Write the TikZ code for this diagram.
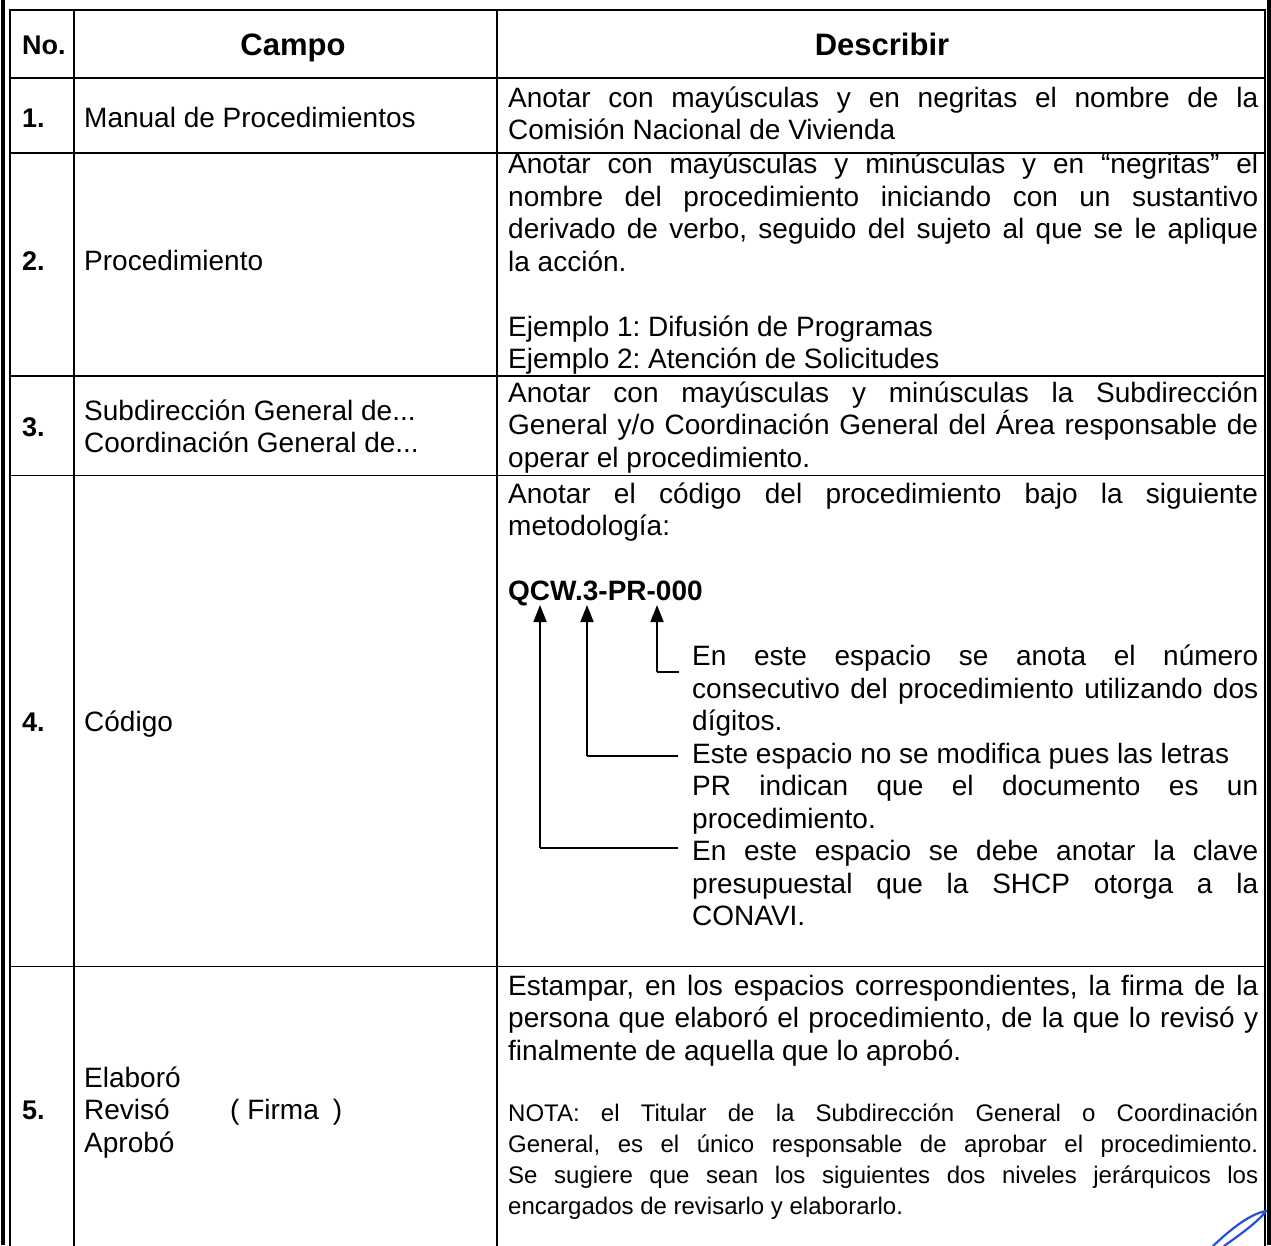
\documentclass[tikz,border=0pt]{standalone}
\usepackage{fontspec}
\setmainfont{Liberation Sans}
\usetikzlibrary{arrows.meta}
\frenchspacing
\newcommand\jl[1]{\hbox to\hsize{#1}}
\newcommand\lf[1]{\hbox to\hsize{#1\hfil}}
\newcommand\emptyline{\hbox{}}
\newcommand\txtblock[2]{\vtop{\hsize=#1\lineskiplimit=-100pt\lineskip=0pt #2}}
\tikzset{
  gridline/.style={line width=1.7pt, line cap=rect},
  body/.style={inner sep=0pt, anchor=base west, font=\fontsize{28}{32.5}\selectfont\frenchspacing},
  nota/.style={inner sep=0pt, anchor=base west, font=\fontsize{24}{31}\selectfont\frenchspacing},
  num/.style={inner sep=0pt, anchor=base west, font=\fontsize{27}{30}\selectfont\bfseries},
  head/.style={inner sep=0pt, anchor=base, font=\fontsize{31}{34}\selectfont\bfseries},
  codearrow/.style={line width=1.8pt, -{Triangle[width=13pt,length=17pt]}},
  bracket/.style={line width=1.8pt},
  pen/.style={line width=2.2pt, draw=penblue, line cap=round, line join=round},
}
\definecolor{penblue}{RGB}{40,80,210}
\begin{document}
\begin{tikzpicture}[x=1pt,y=-1pt]
\useasboundingbox (0,0) rectangle (1271,1245);
\fill[white] (0,0) rectangle (1271,1245);
% outer thick bars
\fill[black] (0.5,0) rectangle (5,1245);
\fill[black] (1267,0) rectangle (1271,1245);
% table grid
\draw[gridline] (10,10) -- (1265,10);
\draw[gridline] (10,10) -- (10,1245);
\draw[gridline] (74,10) -- (74,1245);
\draw[gridline] (497,10) -- (497,1245);
\draw[gridline] (1265,10) -- (1265,1245);
\foreach \yy in {78,153,376,475.5,966.5} \draw[gridline] (10,\yy) -- (1265,\yy);

% header
\node[num] (hno) at (22,54) {No.};
\node[head] (hcampo) at (293,55) {Campo};
\node[head] (hdesc) at (882,55) {Describir};

% row 1
\node[num] (n1) at (22,127) {1.};
\node[body] (c1) at (84,127) {Manual de Procedimientos};
\node[body] (d1) at (508,107) {\txtblock{750pt}{%
\jl{Anotar con mayúsculas y en negritas el nombre de la}%
\lf{Comisión Nacional de Vivienda}}};

% row 2
\node[num] (n2) at (22,270) {2.};
\node[body] (c2) at (84,270) {Procedimiento};
\node[body] (d2) at (508,173.5) {\txtblock{750pt}{%
\jl{Anotar con mayúsculas y minúsculas y en “negritas” el}%
\jl{nombre del procedimiento iniciando con un sustantivo}%
\jl{derivado de verbo, seguido del sujeto al que se le aplique}%
\lf{la acción.}%
\emptyline
\lf{Ejemplo 1: Difusión de Programas}%
\lf{Ejemplo 2: Atención de Solicitudes}}};

% row 3
\node[num] (n3) at (22,436) {3.};
\node[body] (c3) at (84,420) {\txtblock{400pt}{%
\lf{Subdirección General de...}%
\lf{Coordinación General de...}}};
\node[body] (d3) at (508,402) {\txtblock{750pt}{%
\jl{Anotar con mayúsculas y minúsculas la Subdirección}%
\jl{General y/o Coordinación General del Área responsable de}%
\lf{operar el procedimiento.}}};

% row 4
\node[num] (n4) at (22,731) {4.};
\node[body] (c4) at (84,731) {Código};
\node[body] (d4) at (508,503) {\txtblock{750pt}{%
\jl{Anotar el código del procedimiento bajo la siguiente}%
\lf{metodología:}}};
\node[body, font=\fontsize{28}{32.5}\selectfont\bfseries] (code) at (508,600.5) {QCW.3-PR-000};
\node[body] (e1) at (692,665.5) {\txtblock{566pt}{%
\jl{En este espacio se anota el número}%
\jl{consecutivo del procedimiento utilizando dos}%
\lf{dígitos.}%
\lf{Este espacio no se modifica pues las letras}%
\jl{PR indican que el documento es un}%
\lf{procedimiento.}%
\jl{En este espacio se debe anotar la clave}%
\jl{presupuestal que la SHCP otorga a la}%
\lf{CONAVI.}}};
% code arrows
\coordinate (k1) at (540,848);
\coordinate (k2) at (587,756);
\coordinate (k3) at (657,672);
\coordinate (tip) at (0,605);
\coordinate (e3) at (679,672);
\coordinate (e2) at (678,756);
\coordinate (ee1) at (678,848);
\draw[bracket] (e3) -- (k3);
\draw[codearrow] (k3) -- (k3 |- tip);
\draw[bracket] (e2) -- (k2);
\draw[codearrow] (k2) -- (k2 |- tip);
\draw[bracket] (ee1) -- (k1);
\draw[codearrow] (k1) -- (k1 |- tip);

% row 5
\node[num] (n5) at (22,1119.5) {5.};
\node[body] (c5) at (84,1087) {\txtblock{150pt}{%
\lf{Elaboró}%
\lf{Revisó}%
\lf{Aprobó}}};
\node[body] (firma) at (230,1119.5) {( Firma\hspace{14pt})};
\node[body] (d5) at (508,995) {\txtblock{750pt}{%
\jl{Estampar, en los espacios correspondientes, la firma de la}%
\jl{persona que elaboró el procedimiento, de la que lo revisó y}%
\lf{finalmente de aquella que lo aprobó.}}};
\node[nota] (nt) at (508,1121) {\txtblock{750pt}{%
\jl{NOTA: el Titular de la Subdirección General o Coordinación}%
\jl{General, es el único responsable de aprobar el procedimiento.}%
\jl{Se sugiere que sean los siguientes dos niveles jerárquicos los}%
\lf{encargados de revisarlo y elaborarlo.}}};

% pen mark
\draw[pen] (1213,1246) .. controls (1232,1228) and (1250,1214) .. (1266,1211)
  .. controls (1258,1222) and (1238,1236) .. (1224,1246);
\end{tikzpicture}
\end{document}
